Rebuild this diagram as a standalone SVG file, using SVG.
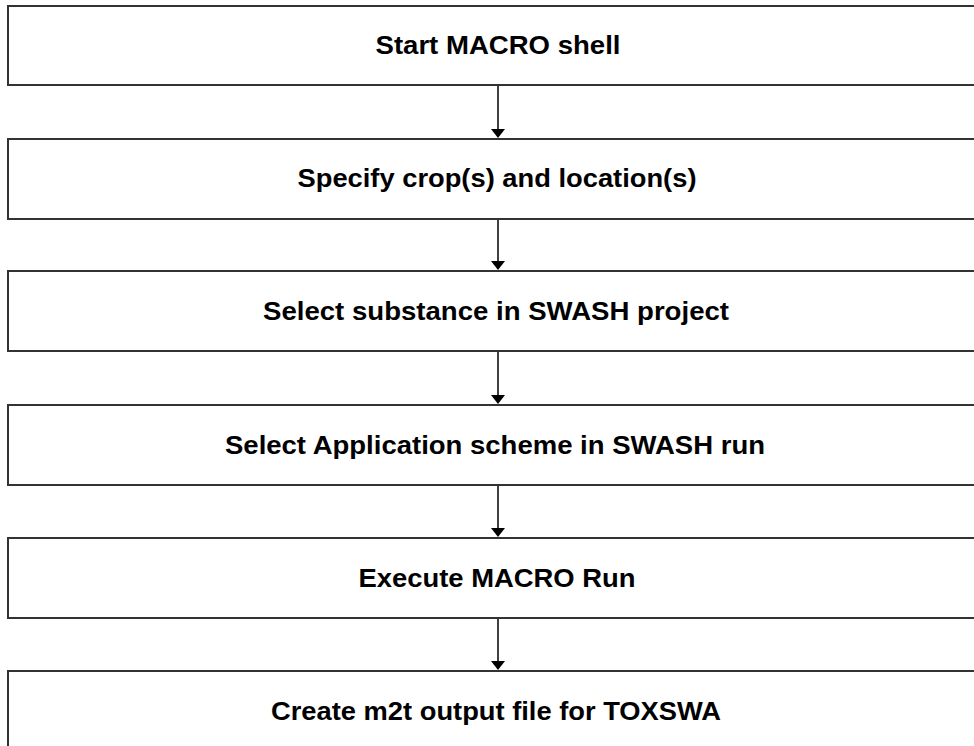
<svg xmlns="http://www.w3.org/2000/svg" width="974" height="746" viewBox="0 0 974 746">
<defs>
<style>
.box{fill:#fff;stroke:#333;stroke-width:2}
.lbl{font-family:"Liberation Sans",Arial,sans-serif;font-weight:bold;font-size:26px;fill:#000;text-anchor:middle}
.conn{stroke:#000;stroke-width:1.5;fill:none}
.head{fill:#000}
</style>
</defs>
<rect width="974" height="746" fill="#fff"/>
<g id="n1"><rect class="box" x="8" y="6" width="990" height="79"/><text class="lbl" x="498" y="54" textLength="245" lengthAdjust="spacingAndGlyphs">Start MACRO shell</text></g>
<g id="n2"><rect class="box" x="8" y="139" width="990" height="80"/><text class="lbl" x="497" y="187" textLength="399" lengthAdjust="spacingAndGlyphs">Specify crop(s) and location(s)</text></g>
<g id="n3"><rect class="box" x="8" y="271" width="990" height="80"/><text class="lbl" x="496" y="320" textLength="466" lengthAdjust="spacingAndGlyphs">Select substance in SWASH project</text></g>
<g id="n4"><rect class="box" x="8" y="405" width="990" height="80"/><text class="lbl" x="495" y="454" textLength="540" lengthAdjust="spacingAndGlyphs">Select Application scheme in SWASH run</text></g>
<g id="n5"><rect class="box" x="8" y="538" width="990" height="80"/><text class="lbl" x="497" y="587" textLength="277" lengthAdjust="spacingAndGlyphs">Execute MACRO Run</text></g>
<g id="n6"><rect class="box" x="8" y="671" width="990" height="90"/><text class="lbl" x="496" y="720" textLength="450" lengthAdjust="spacingAndGlyphs">Create m2t output file for TOXSWA</text></g>
<g id="connectors">
<line class="conn" x1="498" y1="86" x2="498" y2="130"/><path class="head" d="M491,129 L505,129 L498,138 Z"/>
<line class="conn" x1="498" y1="220" x2="498" y2="262"/><path class="head" d="M491,261 L505,261 L498,270 Z"/>
<line class="conn" x1="498" y1="352" x2="498" y2="396"/><path class="head" d="M491,395 L505,395 L498,404 Z"/>
<line class="conn" x1="498" y1="486" x2="498" y2="529"/><path class="head" d="M491,528 L505,528 L498,537 Z"/>
<line class="conn" x1="498" y1="619" x2="498" y2="662"/><path class="head" d="M491,661 L505,661 L498,670 Z"/>
</g>
</svg>
